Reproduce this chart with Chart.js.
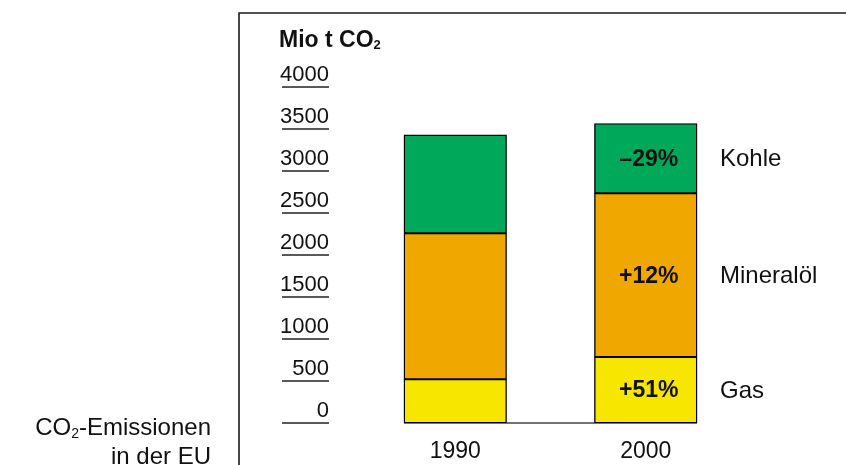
<!DOCTYPE html>
<html lang="de">
<head>
<meta charset="utf-8">
<title>CO2-Emissionen in der EU</title>
<script src="https://cdn.jsdelivr.net/npm/chart.js@4.4.1/dist/chart.umd.min.js"></script>
<style>
  html, body { margin: 0; padding: 0; background: #ffffff; }
  #wrap { position: relative; width: 846px; height: 465px; overflow: hidden; }
  canvas { display: block; }
</style>
</head>
<body>
<div id="wrap"><canvas id="chart" width="846" height="465"></canvas></div>
<script>
// Jahre und Emissionen je Energieträger (Mio t CO2)
const categories = ['1990', '2000'];
const gas = [520, 785];
const mineraloel = [1740, 1950];
const kohle = [1170, 830];
const seriesNames = ['Gas', 'Mineralöl', 'Kohle'];
const seriesColors = ['#f6e600', '#f0a800', '#00a85a'];
const yTicks = [0, 500, 1000, 1500, 2000, 2500, 3000, 3500, 4000];

const FONT = "'Liberation Sans', Arial, Helvetica, sans-serif";
const INK = '#111111';

// Veränderung 1990 -> 2000 in Prozent, als Beschriftung
function changeLabel(series) {
  const pct = Math.round((series[1] / series[0] - 1) * 100);
  return (pct >= 0 ? '+' : '\u2013') + Math.abs(pct) + '%';
}
const seriesData = [gas, mineraloel, kohle];

// Text mit tiefgestellter "2" (CO2)
function drawWithSub(ctx, parts, x, y, align) {
  let total = 0;
  parts.forEach(p => {
    ctx.font = `${p.weight || 'normal'} ${p.size}px ${FONT}`;
    p.w = ctx.measureText(p.t).width;
    total += p.w;
  });
  let cx = align === 'right' ? x - total : x;
  ctx.textAlign = 'left';
  parts.forEach(p => {
    ctx.font = `${p.weight || 'normal'} ${p.size}px ${FONT}`;
    ctx.fillText(p.t, cx, y + (p.dy || 0));
    cx += p.w;
  });
}

const decorPlugin = {
  id: 'decor',
  beforeDatasetsDraw(chart) {
    const ctx = chart.ctx;
    const metaFirst = chart.getDatasetMeta(0);
    const y0 = chart.scales.y.getPixelForValue(0);
    const first = metaFirst.data[0];
    const last = metaFirst.data[metaFirst.data.length - 1];
    // Grundlinie zwischen den Säulen
    ctx.save();
    ctx.strokeStyle = '#444444';
    ctx.lineWidth = 1.5;
    ctx.beginPath();
    ctx.moveTo(first.x - first.width / 2, y0);
    ctx.lineTo(last.x + last.width / 2, y0);
    ctx.stroke();
    ctx.restore();
  },
  afterDraw(chart) {
    const ctx = chart.ctx;
    const yScale = chart.scales.y;
    ctx.save();
    ctx.fillStyle = INK;
    ctx.textBaseline = 'alphabetic';

    // Rahmen
    ctx.strokeStyle = '#1a1a1a';
    ctx.lineWidth = 1.6;
    ctx.beginPath();
    ctx.moveTo(239, 466);
    ctx.lineTo(239, 13);
    ctx.lineTo(847, 13);
    ctx.stroke();

    // Einheit
    drawWithSub(ctx, [
      { t: 'Mio t CO', size: 23, weight: 'bold' },
      { t: '2', size: 13, weight: 'bold', dy: 2 }
    ], 279, 47, 'left');

    // Skala: Zahl über kurzer Linie
    ctx.font = `22px ${FONT}`;
    ctx.textAlign = 'right';
    ctx.strokeStyle = '#222222';
    ctx.lineWidth = 1.5;
    yTicks.forEach(v => {
      const py = yScale.getPixelForValue(v);
      ctx.fillText(String(v), 329, py - 6.5);
      ctx.beginPath();
      ctx.moveTo(282, py);
      ctx.lineTo(329, py);
      ctx.stroke();
    });

    // Titel links unten
    ctx.fillStyle = INK;
    drawWithSub(ctx, [
      { t: 'CO', size: 24 },
      { t: '2', size: 14, dy: 3 },
      { t: '-Emissionen', size: 24 }
    ], 211, 435, 'right');
    ctx.font = `24px ${FONT}`;
    ctx.textAlign = 'right';
    ctx.fillText('in der EU', 211, 464);

    // Veränderungen in der 2000er-Säule und Namen der Energieträger
    ctx.textBaseline = 'middle';
    seriesData.forEach((s, i) => {
      const bar = chart.getDatasetMeta(i).data[1];
      const top = Math.min(bar.y, bar.base);
      const bottom = Math.max(bar.y, bar.base);
      const cy = (top + bottom) / 2;
      ctx.font = `bold 23px ${FONT}`;
      ctx.textAlign = 'center';
      ctx.fillText(changeLabel(s), bar.x + 3, cy + 1);
      ctx.font = `24px ${FONT}`;
      ctx.textAlign = 'left';
      ctx.fillText(seriesNames[i], bar.x + bar.width / 2 + 23, cy + 1);
    });
    ctx.restore();
  }
};

const datasets = seriesNames.map((name, i) => ({
  label: name,
  data: seriesData[i],
  backgroundColor: seriesColors[i],
  borderColor: '#000000',
  borderWidth: 1.4,
  borderSkipped: false,
  inflateAmount: 0.4,
  barPercentage: 0.538,
  categoryPercentage: 1.0
}));

new Chart(document.getElementById('chart'), {
  type: 'bar',
  data: { labels: categories, datasets },
  options: {
    responsive: false,
    animation: false,
    devicePixelRatio: 1,
    layout: { padding: { top: 87, left: 360, right: 105, bottom: 0 } },
    plugins: { legend: { display: false }, tooltip: { enabled: false } },
    scales: {
      x: {
        stacked: true,
        grid: { display: false },
        border: { display: false },
        ticks: { color: INK, font: { family: FONT, size: 23 }, padding: 7 },
        afterFit(scale) { scale.height = 42; }
      },
      y: {
        stacked: true,
        display: false,
        min: 0,
        max: 4000
      }
    }
  },
  plugins: [decorPlugin]
});
</script>
</body>
</html>
